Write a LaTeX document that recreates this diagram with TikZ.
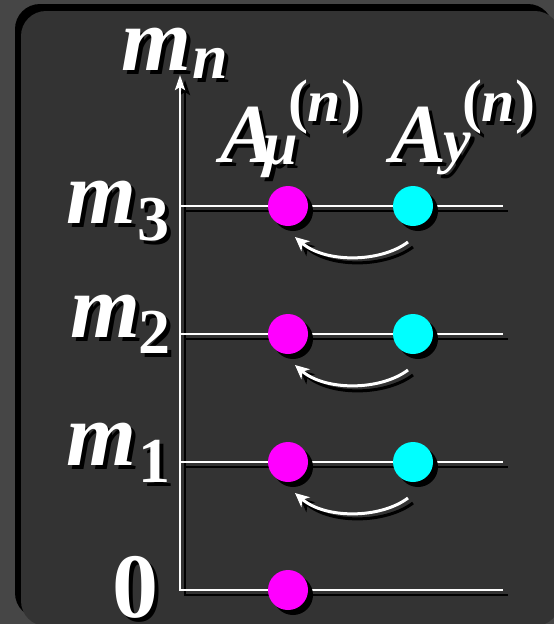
\documentclass[tikz,border=0pt]{standalone}
\usepackage{fontspec}
\setmainfont{Liberation Serif}
\usetikzlibrary{arrows.meta}
\definecolor{bgout}{HTML}{464646}
\definecolor{bgin}{HTML}{333333}
\definecolor{dotmag}{HTML}{FF00FF}
\definecolor{dotcyan}{HTML}{00FFFF}
\tikzset{
  lab/.style={anchor=base west, inner sep=0pt, outer sep=0pt, text=white, font=\bfseries},
  labsh/.style={lab, text=black},
  wline/.style={draw=white, line width=2.7pt},
  sline/.style={draw=black, line width=2.7pt},
  dotbase/.style={circle, inner sep=0pt, minimum size=40pt},
  dotm/.style={dotbase, fill=dotmag},
  dotc/.style={dotbase, fill=dotcyan},
  dots/.style={dotbase, fill=black},
  axtip/.style={-{Stealth[length=15pt,width=10pt,inset=3pt]}},
  curtip/.style={-{Stealth[length=14pt,width=13pt,inset=4pt]}},
  wcurve/.style={draw=white, line width=3pt},
  scurve/.style={draw=black, line width=3pt},
}
\newcommand\Lab[6]{%
  \node[labsh] (#1s) at (#2+4,#3+4) {\fontsize{#4}{#4}\selectfont#5{}#6};
  \node[lab] (#1) at (#2,#3) {\fontsize{#4}{#4}\selectfont#5{}#6};
}
\begin{document}
\begin{tikzpicture}[x=1pt,y=-1pt]
\useasboundingbox (0,0) rectangle (554,624);
\clip (0,0) rectangle (554,624);
% background
\fill[bgout] (0,0) rectangle (554,624);
\fill[black, rounded corners=25pt] (15,4) rectangle (553,618);
\fill[bgin, rounded corners=25pt] (21,11) rectangle (560,626);
% coordinates
\coordinate (O) at (180,590);
\coordinate (R0) at (503,590);
\coordinate (top) at (180,75);
\foreach \n/\y in {3/206,2/334,1/462}{
  \coordinate (L\n) at (180,\y);
  \coordinate (R\n) at (503,\y);
}
% line shadows
\draw[sline, axtip] ([shift={(5,5)}]R0) -- ([shift={(5,5)}]O) -- ([shift={(5,5)}]top);
\foreach \n in {3,2,1}{
  \draw[sline] ([shift={(5,5)}]L\n) -- ([shift={(5,5)}]R\n);
}
% white lines
\draw[wline, axtip, white] (R0) -- (O) -- (top);
\foreach \n in {3,2,1}{
  \draw[wline] (L\n) -- (R\n);
}
% dots
\node[dots] (m0s) at (293,595) {};
\node[dotm] (m0) at (288,590) {};
\foreach \n/\y in {3/206,2/334,1/462}{
  \node[dots] (m\n s) at (293,\y+5) {};
  \node[dots] (c\n s) at (418,\y+5) {};
  \node[dotm] (m\n) at (288,\y) {};
  \node[dotc] (c\n) at (413,\y) {};
  \coordinate (as\n) at (408,\y+36);
  \coordinate (ae\n) at (295,\y+31);
  \coordinate (ass\n) at (413,\y+41);
  \coordinate (aes\n) at (300,\y+36);
  \draw[scurve, curtip, black] (ass\n) .. controls (385,\y+62) and (330,\y+62) .. (aes\n);
  \draw[wcurve, curtip, white] (as\n) .. controls (380,\y+57) and (325,\y+57) .. (ae\n);
}
% labels
\Lab{mn}{121}{70}{90}{\itshape}{m}
\Lab{mnsub}{192}{78}{64}{\itshape}{n}
\Lab{mthree}{66}{223}{90}{\itshape}{m}
\Lab{three}{137}{240}{64}{\upshape}{3}
\Lab{mtwo}{70}{337}{90}{\itshape}{m}
\Lab{two}{138}{353}{64}{\upshape}{2}
\Lab{mone}{66}{465}{90}{\itshape}{m}
\Lab{one}{138}{482}{64}{\upshape}{1}
\Lab{zero}{112}{617}{92}{\upshape}{0}
\Lab{Amu}{220}{162}{84}{\itshape}{A}
\Lab{mu}{263}{164}{62}{\itshape}{μ}
\Lab{nmu}{288}{121}{60}{}{{\upshape(}\itshape n{\upshape)}}
\Lab{Ay}{390}{162}{84}{\itshape}{A}
\Lab{ysub}{443}{161}{62}{\itshape}{y}
\Lab{ny}{462}{121}{60}{}{{\upshape(}\itshape n{\upshape)}}
\end{tikzpicture}
\end{document}
